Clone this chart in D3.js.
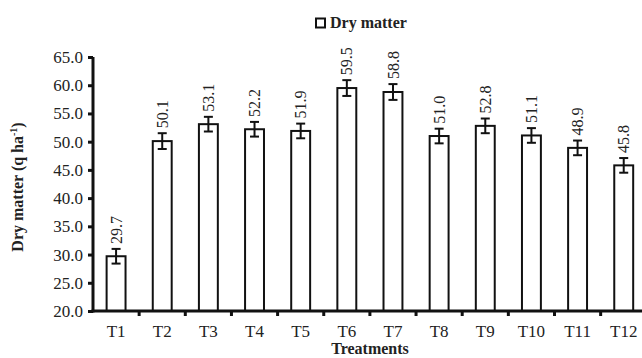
<!DOCTYPE html>
<html>
<head>
<meta charset="utf-8">
<script src="https://cdn.jsdelivr.net/npm/d3@7"></script>
<style>
  body { margin: 0; background: #fff; }
  text { font-family: "Liberation Serif", "Times New Roman", serif; fill: #222; }
</style>
</head>
<body>
<svg id="chart" width="642" height="358"></svg>
<script>
// data
const treatments = ['T1', 'T2', 'T3', 'T4', 'T5', 'T6', 'T7', 'T8', 'T9', 'T10', 'T11', 'T12'];
const dryMatter = [29.7, 50.1, 53.1, 52.2, 51.9, 59.5, 58.8, 51.0, 52.8, 51.1, 48.9, 45.8];
const errors = [1.3, 1.4, 1.3, 1.3, 1.3, 1.4, 1.4, 1.3, 1.3, 1.3, 1.3, 1.3];
const yTicks = [20, 25, 30, 35, 40, 45, 50, 55, 60, 65];

const svg = d3.select('#chart');
const plotLeft = 93, plotTop = 57, plotBottom = 311, step = 46.15;

const y = d3.scaleLinear().domain([20, 65]).range([plotBottom, plotTop]);
const x = d3.scaleBand()
    .domain(treatments)
    .range([plotLeft, plotLeft + step * treatments.length])
    .paddingInner(0.59)
    .paddingOuter(0.295);

// bars
svg.append('g')
    .selectAll('rect')
    .data(treatments)
    .enter().append('rect')
    .attr('x', d => x(d))
    .attr('y', (d, i) => y(dryMatter[i]))
    .attr('width', x.bandwidth())
    .attr('height', (d, i) => y(20) - y(dryMatter[i]))
    .attr('fill', '#fff')
    .attr('stroke', '#111')
    .attr('stroke-width', 2);

// error bars
const err = svg.append('g').attr('stroke', '#111').attr('stroke-width', 2);
treatments.forEach((d, i) => {
    const cx = x(d) + x.bandwidth() / 2;
    const hi = y(dryMatter[i] + errors[i]);
    const lo = y(dryMatter[i] - errors[i]);
    err.append('line').attr('x1', cx).attr('x2', cx).attr('y1', hi).attr('y2', lo);
    err.append('line').attr('x1', cx - 4.5).attr('x2', cx + 4.5).attr('y1', hi).attr('y2', hi);
    err.append('line').attr('x1', cx - 4.5).attr('x2', cx + 4.5).attr('y1', lo).attr('y2', lo);
});

// value labels
svg.append('g')
    .selectAll('text')
    .data(treatments)
    .enter().append('text')
    .attr('transform', (d, i) => {
        const cx = x(d) + x.bandwidth() / 2;
        const yy = y(dryMatter[i] + errors[i]) - 5;
        return 'translate(' + cx + ',' + yy + ') rotate(-90)';
    })
    .attr('dy', '0.35em')
    .attr('font-size', 16)
    .text((d, i) => dryMatter[i].toFixed(1));

// y axis
const yAxis = svg.append('g')
    .attr('transform', 'translate(' + plotLeft + ',0)')
    .call(d3.axisLeft(y).tickValues(yTicks).tickSize(5).tickPadding(5).tickFormat(d3.format('.1f')));
yAxis.select('.domain').attr('stroke', '#111').attr('stroke-width', 3).attr('d', 'M0,' + (plotBottom + 1.5) + 'V' + plotTop);
yAxis.selectAll('.tick line').attr('stroke', '#111').attr('stroke-width', 3);
yAxis.selectAll('.tick text').attr('font-size', 17).attr('font-family', 'Liberation Serif').attr('fill', '#222');

// x axis
const xAxis = svg.append('g')
    .attr('transform', 'translate(0,' + plotBottom + ')')
    .call(d3.axisBottom(x).tickSize(0).tickPadding(14));
xAxis.select('.domain').attr('stroke', '#111').attr('stroke-width', 3).attr('d', 'M' + (plotLeft - 1.5) + ',0H' + (plotLeft + step * treatments.length));
xAxis.selectAll('.tick text').attr('font-size', 17).attr('font-family', 'Liberation Serif').attr('fill', '#222');
xAxis.selectAll('.sep')
    .data(treatments.slice(0, -1))
    .enter().append('line')
    .attr('x1', d => x(d) + x.bandwidth() / 2 + x.step() / 2)
    .attr('x2', d => x(d) + x.bandwidth() / 2 + x.step() / 2)
    .attr('y1', 0).attr('y2', 5)
    .attr('stroke', '#111').attr('stroke-width', 3);

// axis titles
svg.append('text')
    .attr('transform', 'translate(23,187) rotate(-90)')
    .attr('text-anchor', 'middle')
    .attr('font-size', 16)
    .attr('font-weight', 'bold')
    .html('Dry matter (q ha<tspan dy="-6" font-size="10">-1</tspan><tspan dy="6">)</tspan>');

svg.append('text')
    .attr('x', 370)
    .attr('y', 354)
    .attr('text-anchor', 'middle')
    .attr('font-size', 16)
    .attr('font-weight', 'bold')
    .text('Treatments');

// legend
svg.append('rect')
    .attr('x', 316).attr('y', 18.5)
    .attr('width', 9).attr('height', 9)
    .attr('fill', '#fff').attr('stroke', '#111').attr('stroke-width', 2);
svg.append('text')
    .attr('x', 330).attr('y', 28)
    .attr('font-size', 16)
    .attr('font-weight', 'bold')
    .text('Dry matter');
</script>
</body>
</html>
